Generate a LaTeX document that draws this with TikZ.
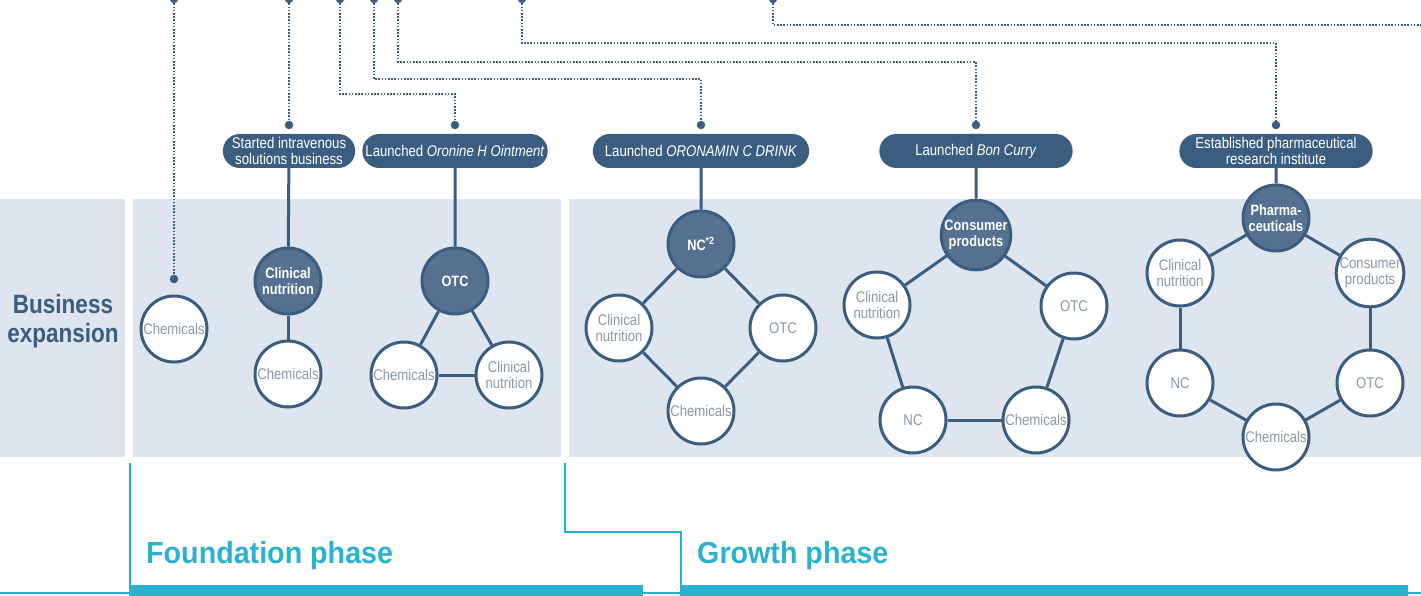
\documentclass[tikz,border=0pt]{standalone}
\usepackage{fontspec}
\setmainfont[FakeStretch=0.85]{Liberation Sans}
\newfontfamily\phasefont[FakeStretch=0.94]{Liberation Sans}
\usetikzlibrary{shapes.misc}
\definecolor{navy}{HTML}{3A5D80}
\definecolor{hubblue}{HTML}{54728F}
\definecolor{panelgrey}{HTML}{DFE5EE}
\definecolor{unitgrey}{HTML}{8C98A4}
\definecolor{phasecyan}{HTML}{2AB1D0}

\begin{document}
\begin{tikzpicture}[x=1pt, y=-1pt]
        \tikzset{
           pill/.style={
                        rounded rectangle,
                        fill=navy,
                        text=white,
                        minimum height=34pt,
                        inner ysep=1pt,
                        align=center,
                        font=\fontsize{15.5}{16}\selectfont
                       },
           hub/.style={
                        circle,
                        draw=navy,
                        line width=3pt,
                        fill=hubblue,
                        text=white,
                        minimum size=66pt,
                        inner sep=0pt,
                        align=center,
                        font=\bfseries\fontsize{15}{16}\selectfont
                       },
           unit/.style={
                        circle,
                        draw=navy,
                        line width=3pt,
                        fill=white,
                        text=unitgrey,
                        minimum size=66pt,
                        inner sep=0pt,
                        align=center,
                        font=\fontsize{15.5}{16}\selectfont
                       },
           pin/.style={circle, fill=navy, minimum size=8.5pt, inner sep=0pt},
           lead/.style={navy, line width=2pt, dash pattern=on 1.6pt off 1.6pt},
           link/.style={navy, line width=3pt},
           phaseline/.style={phasecyan, line width=2pt},
           phasebar/.style={phasecyan, line width=11pt},
           phasetext/.style={anchor=base west, inner sep=0pt, text=phasecyan, font=\phasefont\bfseries\fontsize{30.5}{32}\selectfont}
                 };
        \useasboundingbox (0,0) rectangle (1421,596);
    %--------------------
        \fill[panelgrey] (0,199) rectangle (125,457);
        \fill[panelgrey] (133,199) rectangle (561,457);
        \fill[panelgrey] (569,199) rectangle (1421,457);

        \node[text=navy, align=center, font=\bfseries\fontsize{26.5}{29}\selectfont] (bizlabel) at (63,321) {Business\\expansion};
    %--------------------
        \node[pin] (t1) at (174,-1) {};
        \node[pin] (t2) at (289,-1) {};
        \node[pin] (t3) at (340,-1) {};
        \node[pin] (t4) at (374,-1) {};
        \node[pin] (t5) at (398,-1) {};
        \node[pin] (t6) at (522,-1) {};
        \node[pin] (t7) at (773,-1) {};

        \node[pin] (p1) at (174,279) {};
        \node[pin] (p2) at (289,125) {};
        \node[pin] (p3) at (455,125) {};
        \node[pin] (p4) at (701,125) {};
        \node[pin] (p5) at (976,125) {};
        \node[pin] (p6) at (1276,125) {};
        \coordinate (offright) at (1425,25);

        \coordinate (row3) at (0,94);
        \coordinate (row4) at (0,79);
        \coordinate (row5) at (0,62);
        \coordinate (row6) at (0,43);

        \draw[lead] (t1) -- (p1);
        \draw[lead] (t2) -- (p2);
        \draw[lead] (t3) -- (t3 |- row3) -| (p3);
        \draw[lead] (t4) -- (t4 |- row4) -| (p4);
        \draw[lead] (t5) -- (t5 |- row5) -| (p5);
        \draw[lead] (t6) -- (t6 |- row6) -| (p6);
        \draw[lead] (t7) |- (offright);
    %--------------------
        \node[pill, minimum width=139pt] (infusion)  at (289,151)  {Started intravenous\\solutions business};
        \node[pill, minimum width=192pt] (oronine)   at (455,151)  {Launched \textit{Oronine H Ointment}};
        \node[pill, minimum width=223pt] (oronamin)  at (701,151)  {Launched \textit{ORONAMIN C DRINK}};
        \node[pill, minimum width=200pt] (boncurry)  at (976,151)  {Launched \textit{Bon Curry}};
        \node[pill, minimum width=200pt] (institute) at (1276,151) {Established pharmaceutical\\research institute};
    %--------------------
        \node[unit] (chemA)  at (174,329) {Chemicals};

        \node[hub]  (clinB)  at (288,281) {Clinical\\nutrition};
        \node[unit] (chemB)  at (288,374) {Chemicals};

        \node[hub]  (otcC)   at (455,281) {OTC};
        \node[unit] (chemC)  at (404,375) {Chemicals};
        \node[unit] (clinC)  at (509,375) {Clinical\\nutrition};

        \node[hub]  (ncD)    at (701,244) {NC\textsuperscript{*2}};
        \node[unit] (clinD)  at (619,328) {Clinical\\nutrition};
        \node[unit] (otcD)   at (783,328) {OTC};
        \node[unit] (chemD)  at (701,411) {Chemicals};

        \node[hub]  (consE)  at (976,235) {Consumer\\products};
        \node[unit] (clinE)  at (877,305) {Clinical\\nutrition};
        \node[unit] (otcE)   at (1074,306) {OTC};
        \node[unit] (ncE)    at (913,420) {NC};
        \node[unit] (chemE)  at (1036,420) {Chemicals};

        \node[hub]  (pharF)  at (1276,218) {Pharma-\\ceuticals};
        \node[unit] (clinF)  at (1180,273) {Clinical\\nutrition};
        \node[unit] (consF)  at (1370,273) {Consumer\\products};
        \node[unit] (ncF)    at (1180,383) {NC};
        \node[unit] (otcF)   at (1370,383) {OTC};
        \node[unit] (chemF)  at (1276,437) {Chemicals};
    %--------------------
        \path[link] (infusion)  edge (clinB)
                    (oronine)   edge (otcC)
                    (oronamin)  edge (ncD)
                    (boncurry)  edge (consE)
                    (institute) edge (pharF)
                    (clinB) edge (chemB)
                    (otcC)  edge (chemC)
                    (otcC)  edge (clinC)
                    (chemC) edge (clinC)
                    (ncD)   edge (clinD)
                    (ncD)   edge (otcD)
                    (clinD) edge (chemD)
                    (otcD)  edge (chemD)
                    (consE) edge (clinE)
                    (consE) edge (otcE)
                    (clinE) edge (ncE)
                    (otcE)  edge (chemE)
                    (ncE)   edge (chemE)
                    (pharF) edge (clinF)
                    (pharF) edge (consF)
                    (clinF) edge (ncF)
                    (consF) edge (otcF)
                    (ncF)   edge (chemF)
                    (otcF)  edge (chemF)
        ;
    %--------------------
        \draw[phaseline] (0,593) -- (130,593) (130,463) -- (130,590);
        \draw[phaseline] (643,593) -- (681,593) (565,463) -- (565,532) -- (681,532) -- (681,590);
        \draw[phaseline] (1408,593) -- (1421,593);
        \draw[phasebar] (129,590.5) -- (643,590.5);
        \draw[phasebar] (680,590.5) -- (1408,590.5);
        \node[phasetext] (foundation) at (146,563) {Foundation phase};
        \node[phasetext] (growth)     at (697,563) {Growth phase};
    \end{tikzpicture}
\end{document}
